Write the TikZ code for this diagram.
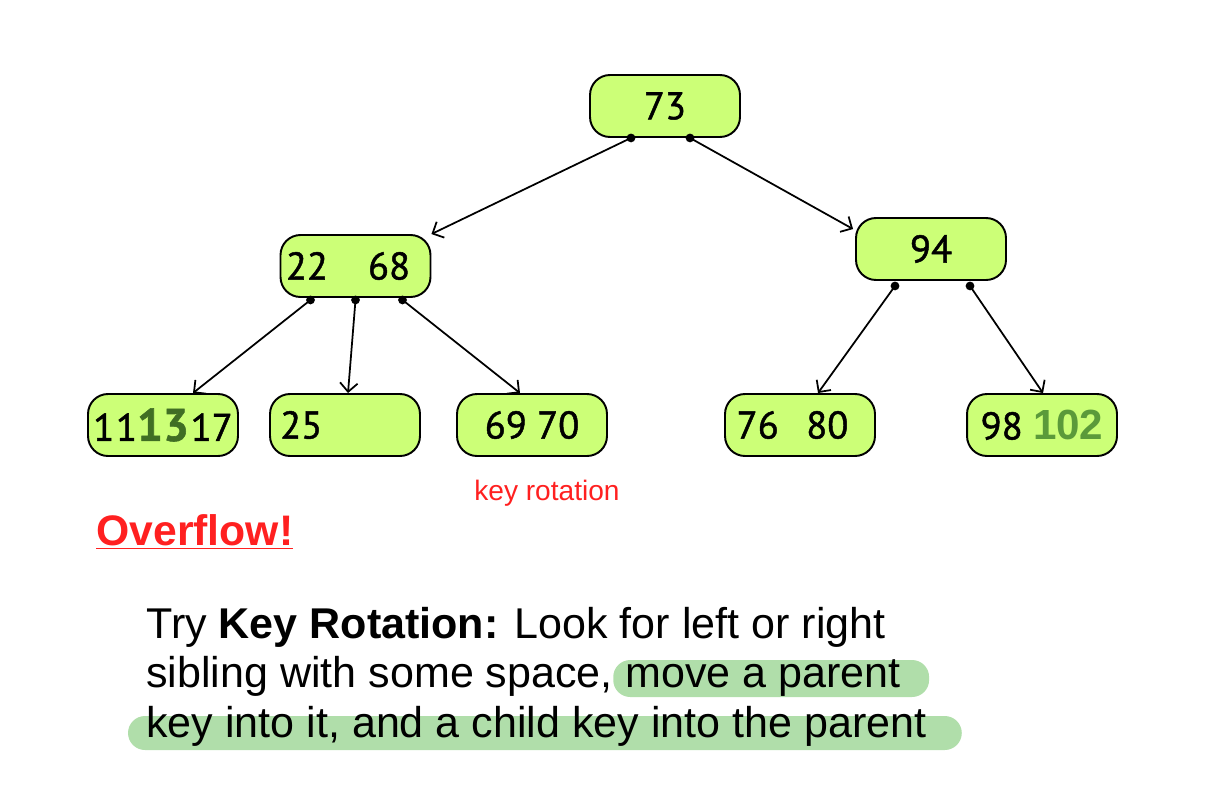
\documentclass[tikz,border=0pt]{standalone}
\usepackage{fontspec}
\setmainfont{Liberation Sans}
\newfontfamily\keyfont[FakeBold=1.2]{PT Sans}
\usetikzlibrary{calc}
\usetikzlibrary{backgrounds}
\usetikzlibrary{arrows.meta}
\definecolor{keyfill}{RGB}{204,255,119}
\definecolor{darkkey}{RGB}{64,110,36}
\definecolor{newkey}{RGB}{91,154,58}
\definecolor{alertred}{RGB}{255,32,32}
\definecolor{markgreen}{RGB}{176,222,170}

\begin{document}
\begin{tikzpicture}[x=0.02cm, y=-0.02cm]

\tikzstyle{keynode}=[draw=black, line width=1.1pt, fill=keyfill, rounded corners=0.4cm,
minimum width=3cm, minimum height=1.24cm, inner sep=0.1cm,
font=\keyfont\fontsize{22}{22}\selectfont]
\tikzstyle{link}=[-{Straight Barb[length=5pt,width=10pt]}, line width=1pt]
\tikzstyle{dot}=[fill=black]
\tikzstyle{textline}=[anchor=base west, inner sep=0pt, font=\fontsize{24.5}{28}\selectfont]
\tikzstyle{marker}=[fill=markgreen, rounded corners=0.34cm]

\useasboundingbox (0,0) rectangle (1222,794);

% tree
\node[keynode] (root) at (665,106) {73};
\node[keynode] (left) at (355.5,266) {22\hspace{0.8cm}68\kern0.3cm};
\node[keynode] (right) at (931,249) {94};
\node[keynode] (leafa) at (163,425) {1\kern1pt1{\bfseries\color{darkkey}\fontsize{26}{26}\selectfont 13}\kern1pt17};
\node[keynode] (leafb) at (345,425) {25\kern1.75cm};
\node[keynode] (leafc) at (532,425) {69 70};
\node[keynode] (leafd) at (800,425) {76\hspace{0.55cm}80\kern0.3cm};
\node[keynode] (leafe) at (1042,425) {98 {\rmfamily\bfseries\color{newkey}\fontsize{24}{24}\selectfont 102}};

\coordinate (rootl) at ($(root.south)+(-34,0)$);
\coordinate (rootr) at ($(root.south)+(25,0)$);
\coordinate (lefta) at ($(left.south)+(-45,2)$);
\coordinate (leftb) at ($(left.south)+(0,2)$);
\coordinate (leftc) at ($(left.south)+(47,2)$);
\coordinate (righta) at ($(right.south)+(-36,5)$);
\coordinate (rightb) at ($(right.south)+(39,5)$);

\draw[link] (rootl) -- (left.north east);
\draw[link] (rootr) -- ($(right.north west)+(-2,12)$);
\draw[link] (lefta) -- ($(leafa.north)+(30,0)$);
\draw[link] (leftb) -- ($(leafb.north)+(3,0)$);
\draw[link] (leftc) -- ($(leafc.north)+(-12,0)$);
\draw[link] (righta) -- ($(leafd.north)+(18,0)$);
\draw[link] (rightb) -- ($(leafe.north)+(1,0)$);

\fill[dot] (rootl) circle[radius=2.5pt];
\fill[dot] (rootr) circle[radius=2.5pt];
\fill[dot] (lefta) circle[radius=2.5pt];
\fill[dot] (leftb) circle[radius=2.5pt];
\fill[dot] (leftc) circle[radius=2.5pt];
\fill[dot] (righta) circle[radius=2.5pt];
\fill[dot] (rightb) circle[radius=2.5pt];

% labels
\node[anchor=base, inner sep=0pt, text=alertred, font=\fontsize{16}{16}\selectfont] (rotlabel) at (547,500) {key rotation};
\node[anchor=base west, inner sep=0pt, text=alertred, font=\bfseries\fontsize{24.3}{24}\selectfont] (overflow) at (96,545) {\underline{Overflow!}};

% explanation
\node[textline] (linea) at (146,638) {Try \textbf{Key Rotation:} Look for left or right};
\node[textline] (lineb) at (146,687) {sibling with some space,};
\node[textline] (linebb) at (lineb.base east) {\ move a parent};
\node[textline] (linec) at (146,737) {key into it, and a child key into the parent};

\begin{scope}[on background layer]
	\fill[marker] ($(linebb.base west)+(0,10)$) rectangle ($(linebb.base east)+(28,-27)$);
	\fill[marker] ($(linec.base west)+(-18,13)$) rectangle ($(linec.base east)+(35,-21)$);
\end{scope}
\end{tikzpicture}
\end{document}
